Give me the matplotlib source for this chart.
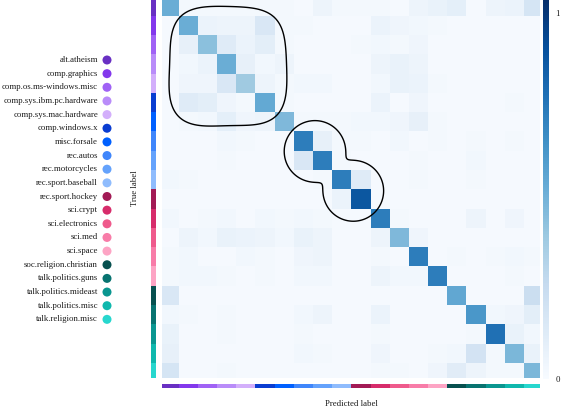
import numpy as np
import matplotlib
matplotlib.use("Agg")
import matplotlib.pyplot as plt
from matplotlib.colors import Normalize, to_rgb
from matplotlib.cm import ScalarMappable

plt.rcParams['font.family'] = ['Liberation Serif', 'DejaVu Serif']

#  ======================= data ======================= #
labels = ["alt.atheism", "comp.graphics", "comp.os.ms-windows.misc",
          "comp.sys.ibm.pc.hardware", "comp.sys.mac.hardware", "comp.windows.x",
          "misc.forsale", "rec.autos", "rec.motorcycles", "rec.sport.baseball",
          "rec.sport.hockey", "sci.crypt", "sci.electronics", "sci.med", "sci.space",
          "soc.religion.christian", "talk.politics.guns", "talk.politics.mideast",
          "talk.politics.misc", "talk.religion.misc"]

label_colors = ["#6930c3", "#8338ec", "#a062f5", "#b98cf9", "#d3affb",
                "#0a3dd1", "#0060ff", "#3f86fb", "#64a2fc", "#8fbcfd",
                "#a21a55", "#d72c6b", "#ef5a8c", "#f87ca8", "#fda4c4",
                "#07504f", "#087370", "#0a9690", "#0fb8ad", "#27d7ce"]

# normalised confusion matrix (rows = true, cols = predicted)
cm = np.array([
    [0.50, 0.02, 0.02, 0.02, 0.02, 0.02, 0.02, 0.01, 0.05, 0.02, 0.02, 0.02, 0.01, 0.05, 0.07, 0.09, 0.01, 0.05, 0.06, 0.17],
    [0.01, 0.50, 0.06, 0.05, 0.05, 0.15, 0.02, 0.02, 0.01, 0.01, 0.01, 0.06, 0.04, 0.03, 0.02, 0.01, 0.01, 0.01, 0.01, 0.01],
    [0.01, 0.08, 0.42, 0.12, 0.06, 0.10, 0.02, 0.01, 0.01, 0.01, 0.02, 0.03, 0.02, 0.04, 0.01, 0.01, 0.01, 0.01, 0.01, 0.01],
    [0.01, 0.03, 0.06, 0.50, 0.08, 0.03, 0.05, 0.01, 0.01, 0.01, 0.01, 0.05, 0.07, 0.05, 0.01, 0.01, 0.01, 0.01, 0.01, 0.01],
    [0.01, 0.04, 0.04, 0.15, 0.37, 0.05, 0.02, 0.03, 0.03, 0.01, 0.01, 0.03, 0.07, 0.06, 0.02, 0.01, 0.01, 0.01, 0.01, 0.01],
    [0.01, 0.12, 0.10, 0.04, 0.02, 0.52, 0.02, 0.01, 0.01, 0.01, 0.01, 0.06, 0.01, 0.04, 0.01, 0.01, 0.01, 0.01, 0.02, 0.01],
    [0.01, 0.02, 0.03, 0.09, 0.04, 0.05, 0.45, 0.02, 0.02, 0.02, 0.03, 0.03, 0.04, 0.08, 0.02, 0.01, 0.01, 0.01, 0.01, 0.01],
    [0.01, 0.01, 0.01, 0.03, 0.02, 0.01, 0.01, 0.70, 0.08, 0.02, 0.02, 0.01, 0.03, 0.01, 0.02, 0.01, 0.02, 0.01, 0.02, 0.01],
    [0.01, 0.01, 0.01, 0.02, 0.01, 0.01, 0.01, 0.15, 0.70, 0.02, 0.01, 0.01, 0.01, 0.02, 0.01, 0.01, 0.03, 0.01, 0.01, 0.01],
    [0.03, 0.02, 0.01, 0.01, 0.01, 0.01, 0.01, 0.01, 0.02, 0.70, 0.12, 0.01, 0.01, 0.02, 0.01, 0.01, 0.02, 0.01, 0.01, 0.01],
    [0.01, 0.01, 0.01, 0.01, 0.01, 0.01, 0.01, 0.01, 0.01, 0.06, 0.85, 0.01, 0.01, 0.01, 0.01, 0.01, 0.01, 0.01, 0.01, 0.01],
    [0.03, 0.01, 0.02, 0.03, 0.01, 0.03, 0.02, 0.03, 0.02, 0.01, 0.01, 0.70, 0.02, 0.01, 0.01, 0.01, 0.05, 0.01, 0.04, 0.01],
    [0.01, 0.05, 0.03, 0.07, 0.06, 0.05, 0.03, 0.07, 0.05, 0.01, 0.01, 0.05, 0.45, 0.04, 0.01, 0.01, 0.01, 0.01, 0.01, 0.01],
    [0.02, 0.03, 0.01, 0.01, 0.03, 0.02, 0.01, 0.04, 0.05, 0.01, 0.01, 0.02, 0.01, 0.70, 0.01, 0.02, 0.01, 0.02, 0.03, 0.02],
    [0.02, 0.03, 0.03, 0.02, 0.01, 0.02, 0.01, 0.03, 0.03, 0.01, 0.01, 0.05, 0.03, 0.03, 0.70, 0.01, 0.01, 0.01, 0.02, 0.01],
    [0.15, 0.01, 0.01, 0.01, 0.01, 0.01, 0.01, 0.01, 0.01, 0.01, 0.01, 0.01, 0.01, 0.01, 0.01, 0.53, 0.01, 0.01, 0.01, 0.22],
    [0.03, 0.02, 0.01, 0.02, 0.01, 0.01, 0.01, 0.03, 0.05, 0.01, 0.01, 0.06, 0.01, 0.01, 0.01, 0.01, 0.60, 0.03, 0.04, 0.10],
    [0.07, 0.01, 0.01, 0.02, 0.01, 0.01, 0.01, 0.02, 0.01, 0.01, 0.01, 0.02, 0.01, 0.01, 0.01, 0.01, 0.02, 0.75, 0.07, 0.03],
    [0.08, 0.01, 0.01, 0.01, 0.01, 0.01, 0.01, 0.03, 0.02, 0.01, 0.01, 0.04, 0.01, 0.01, 0.02, 0.03, 0.18, 0.02, 0.46, 0.07],
    [0.17, 0.01, 0.01, 0.02, 0.01, 0.01, 0.01, 0.01, 0.01, 0.01, 0.01, 0.02, 0.02, 0.01, 0.04, 0.11, 0.05, 0.02, 0.02, 0.46],
])

#  ======================= layout helpers ======================= #
W, H = 564, 411
def box(x0, y0, x1, y1):
    return [x0 / W, 1 - y1 / H, (x1 - x0) / W, (y1 - y0) / H]

XLIM = (-0.37, 19.33)
YLIM = (19.28, -0.37)
TXT = "#1a1a1a"
FS = 6.3

fig = plt.figure(figsize=(5.64, 4.11), dpi=100)

# legend (text on the left, dot on the right)
lg = fig.add_axes([0, 0, 1, 1])
lg.set_xlim(0, W)
lg.set_ylim(H, 0)
lg.axis("off")
ys = 60 + 13.65 * np.arange(len(labels))
lg.scatter(np.full(len(labels), 107), ys, s=42, c=label_colors, linewidths=0)
for y, lab in zip(ys, labels):
    lg.text(98, y, lab, ha="right", va="center", fontsize=FS, color=TXT)

#  ======================= heatmap ======================= #
ax = fig.add_axes(box(162, 0, 540, 378))
ax.imshow(cm, cmap="Blues", vmin=0, vmax=1, aspect="auto", interpolation="nearest")
ax.set_xlim(*XLIM)
ax.set_ylim(*YLIM)
ax.axis("off")

# hand-drawn style outlines around the clusters
gx, gy = np.meshgrid(np.linspace(-1, 20.5, 700), np.linspace(-1, 20.5, 700))
th = np.arctan2(gy - 3.05, gx - 3.05)
f1 = (np.abs(gx - 3.05) / 3.05) ** 3.6 + (np.abs(gy - 3.1) / 3.1) ** 3.6 - 1 - 0.05 * np.sin(3 * th + 0.6)
ax.contour(gx, gy, f1, levels=[0], colors="k", linewidths=1.0)

d1 = np.hypot(gx - 7.6, gy - 7.5) - 1.6
d2 = np.hypot(gx - 9.6, gy - 9.55) - 1.58
k = 6.0
f2 = -np.log(np.exp(-k * d1) + np.exp(-k * d2)) / k
ax.contour(gx, gy, f2, levels=[0], colors="k", linewidths=1.0)

# colour strips
rgb = np.array([to_rgb(c) for c in label_colors])
lax = fig.add_axes(box(151, 0, 156, 378))
lax.imshow(rgb[:, None, :], aspect="auto", interpolation="nearest")
lax.set_ylim(*YLIM)
lax.axis("off")

bax = fig.add_axes(box(162, 384, 540, 388.3))
bax.imshow(rgb[None, :, :], aspect="auto", interpolation="nearest")
bax.set_xlim(*XLIM)
bax.axis("off")

#  ======================= colorbar ======================= #
cax = fig.add_axes(box(543.3, 0, 548.7, 379))
cb = fig.colorbar(ScalarMappable(Normalize(0, 1.035), "Blues"), cax=cax, ticks=[0, 1])
cb.outline.set_visible(False)
cax.tick_params(length=0, pad=5, labelsize=FS, colors=TXT)

fig.text(135 / W, 1 - 188 / H, "True label", rotation=90, ha="center", va="center", fontsize=FS, color=TXT)
fig.text(351 / W, 1 - 404 / H, "Predicted label", ha="center", va="center", fontsize=FS, color=TXT)

fig.savefig("out.png", dpi=100)
